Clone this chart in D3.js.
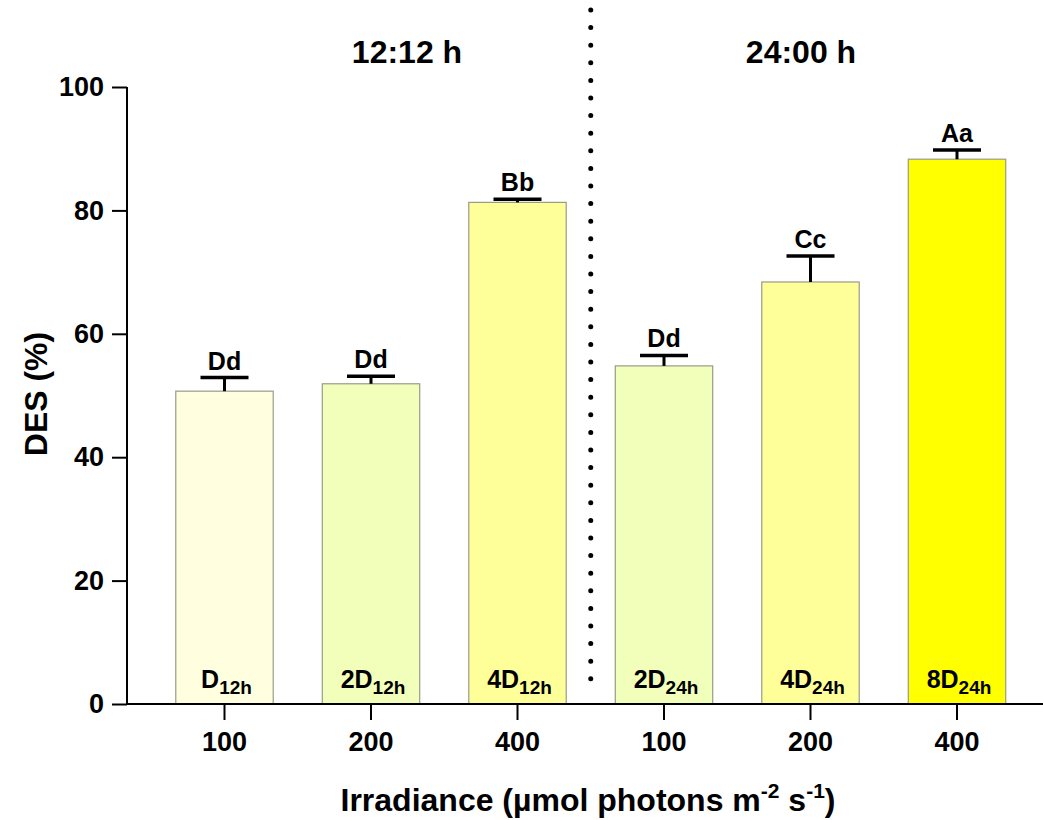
<!DOCTYPE html>
<html><head><meta charset="utf-8">
<script src="https://cdn.jsdelivr.net/npm/d3@7"></script>
<style>body{margin:0;background:#fff}svg{display:block}text{font-family:"Liberation Sans",Arial,sans-serif;font-weight:bold;fill:#000}</style>
</head><body>
<script>
const categories = ["100","200","400","100","200","400"];
const treatments = ["D","2D","4D","2D","4D","8D"];
const subscripts = ["12h","12h","12h","24h","24h","24h"];
const values = [50.7, 51.9, 81.3, 54.8, 68.4, 88.3];
const errors = [2.2, 1.2, 0.5, 1.7, 4.2, 1.5];
const letters = ["Dd","Dd","Bb","Dd","Cc","Aa"];
const colors = ["#FFFFE0","#F2FFBB","#FFFF99","#F2FFBB","#FFFF99","#FFFF00"];
const groupTitles = ["12:12 h","24:00 h"];
const yTicks = [0,20,40,60,80,100];

const W=1043,H=820;
const svg=d3.select("body").append("svg").attr("width",W).attr("height",H);
const axX0=127, axX1=1043;
const y=d3.scaleLinear().domain([0,100]).range([704,87]);
const x=d3.scaleBand().domain(d3.range(6)).range([151.25,1030.25]).paddingInner(0.335).paddingOuter(0.335/2);

// bars
svg.selectAll("rect.bar").data(values).join("rect")
 .attr("x",(d,i)=>x(i)).attr("width",x.bandwidth())
 .attr("y",d=>y(d)).attr("height",d=>y(0)-y(d))
 .attr("fill",(d,i)=>colors[i]).attr("stroke","#9a9a8a").attr("stroke-width",1.2);

// error bars
const cap=48;
values.forEach((v,i)=>{
  const cx=x(i)+x.bandwidth()/2;
  svg.append("line").attr("x1",cx).attr("x2",cx).attr("y1",y(v)).attr("y2",y(v+errors[i])).attr("stroke","#000").attr("stroke-width",3);
  svg.append("line").attr("x1",cx-cap/2).attr("x2",cx+cap/2).attr("y1",y(v+errors[i])).attr("y2",y(v+errors[i])).attr("stroke","#000").attr("stroke-width",3.5);
  svg.append("text").attr("x",cx).attr("y",y(v+errors[i])-8).attr("text-anchor","middle").attr("font-size",25).text(letters[i]);
  const t=svg.append("text").attr("x",cx+2).attr("y",688).attr("text-anchor","middle").attr("font-size",25);
  t.append("tspan").text(treatments[i]);
  t.append("tspan").attr("font-size",19).attr("dy",6).text(subscripts[i]);
});

// y axis
const ya=svg.append("g").attr("transform",`translate(${axX0},0)`).call(d3.axisLeft(y).tickValues(yTicks).tickSize(15).tickSizeOuter(0).tickPadding(8));
ya.selectAll("text").attr("font-size",27).attr("font-family","Liberation Sans, Arial").attr("font-weight","bold").attr("fill","#000");
ya.selectAll("line,path").attr("stroke","#000").attr("stroke-width",2);
ya.select("path").attr("d",`M0,${y(100)}V${y(0)}`);

// x axis
const xa=svg.append("g").attr("transform",`translate(0,${y(0)})`).call(d3.axisBottom(x).tickSize(16).tickSizeOuter(0).tickPadding(12).tickFormat(i=>categories[i]));
xa.selectAll("text").attr("font-size",27).attr("font-family","Liberation Sans, Arial").attr("font-weight","bold").attr("fill","#000");
xa.selectAll("line,path").attr("stroke","#000").attr("stroke-width",2);
xa.select("path").attr("d",`M${axX0},0H${axX1}`);

// dotted separator
const sepX=(x(2)+x.bandwidth()+x(3))/2;
svg.append("line").attr("x1",sepX).attr("x2",sepX).attr("y1",10).attr("y2",690)
 .attr("stroke","#000").attr("stroke-width",5).attr("stroke-linecap","round").attr("stroke-dasharray","0 17.6");

// group titles
svg.append("text").attr("x",407).attr("y",63).attr("text-anchor","middle").attr("font-size",32).text(groupTitles[0]);
svg.append("text").attr("x",801).attr("y",63).attr("text-anchor","middle").attr("font-size",32).text(groupTitles[1]);

// axis titles
svg.append("text").attr("transform",`translate(47,394) rotate(-90)`).attr("text-anchor","middle").attr("font-size",32).text("DES (%)");
const xt=svg.append("text").attr("x",588).attr("y",811).attr("text-anchor","middle").attr("font-size",32);
xt.append("tspan").text("Irradiance (µmol photons m");
xt.append("tspan").attr("font-size",21).attr("dy",-13).text("-2");
xt.append("tspan").attr("dy",13).text(" s");
xt.append("tspan").attr("font-size",21).attr("dy",-13).text("-1");
xt.append("tspan").attr("dy",13).text(")");
</script>
</body></html>
